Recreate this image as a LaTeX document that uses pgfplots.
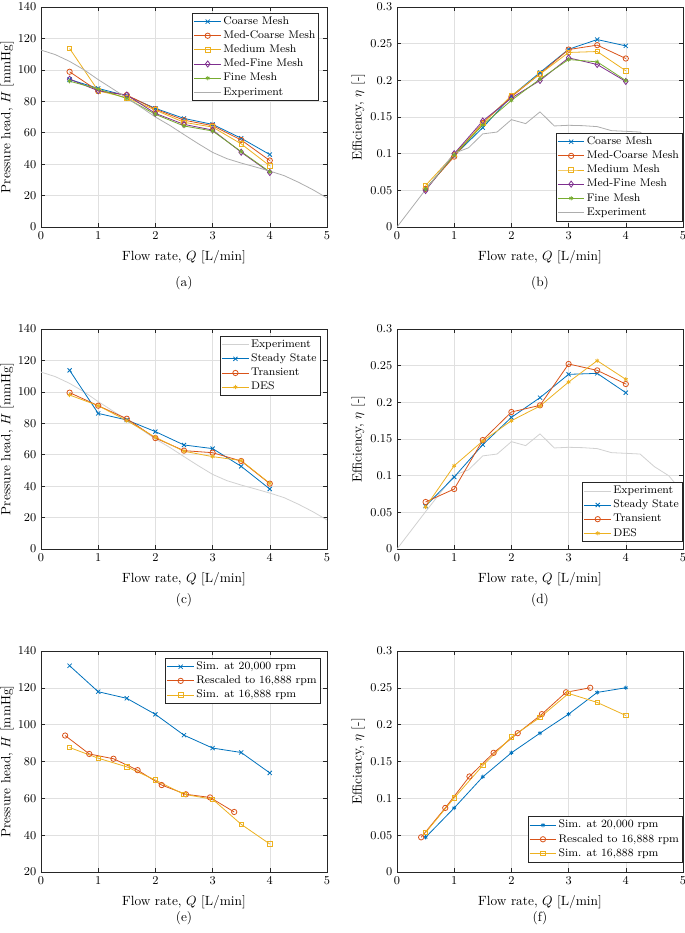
\documentclass[border=0pt]{standalone}
\usepackage{pgfplots}
\pgfplotsset{compat=1.18}
\definecolor{mblue}{rgb}{0,0.447,0.741}
\definecolor{morange}{rgb}{0.85,0.325,0.098}
\definecolor{myellow}{rgb}{0.929,0.694,0.125}
\definecolor{mpurple}{rgb}{0.494,0.184,0.556}
\definecolor{mgreen}{rgb}{0.466,0.674,0.188}
\definecolor{expA}{rgb}{0.68,0.68,0.68}
\definecolor{expC}{rgb}{0.82,0.82,0.82}
\definecolor{gridgray}{rgb}{0.88,0.88,0.88}
\definecolor{axgray}{rgb}{0.15,0.15,0.15}
\pgfplotsset{
 myax/.style={scale only axis, width=214.5pt, height=165pt, anchor=south west,
  xmin=0, xmax=5, xtick={0,1,2,3,4,5},
  grid=major, grid style={color=gridgray, line width=0.4pt},
  axis line style={color=axgray, line width=0.4pt},
  tick style={color=axgray, line width=0.4pt}, major tick length=3pt,
  tick label style={font=\fontsize{9.5}{11}\selectfont, color=black},
  label style={font=\fontsize{10}{12}\selectfont},
  xlabel={Flow rate, $Q$ [L/min]},
  xlabel style={at={(axis description cs:0.5,-0.136)}, anchor=center},
  legend cell align=left,
  legend style={font=\fontsize{8.3}{9}\selectfont, draw=axgray, line width=0.4pt, inner sep=1pt,
    nodes={inner sep=1.4pt, text height=6pt, text depth=1.8pt}},
  legend image code/.code={\draw[mark repeat=2,mark phase=2] plot coordinates {(0pt,0pt) (10pt,0pt) (20pt,0pt)};},
  every axis plot/.append style={line width=0.6pt},
 },
 hax/.style={myax, ymin=0, ymax=140, ytick={0,20,...,140}, ylabel={Pressure head, $H$ [mmHg]},
   ylabel style={at={(axis description cs:-0.119,0.5)}, anchor=center}},
 eax/.style={myax, ymin=0, ymax=0.3, ytick={0,0.05,0.1,0.15,0.2,0.25,0.3}, scaled y ticks=false,
   yticklabel style={/pgf/number format/fixed, /pgf/number format/precision=2},
   ylabel={Efficiency, $\eta$ [-]},
   ylabel style={at={(axis description cs:-0.135,0.5)}, anchor=center}},
 mx/.style={mark=x, mark size=2.2pt},
 mo/.style={mark=o, mark size=2pt},
 msq/.style={mark=square, mark size=1.7pt},
 mdi/.style={mark=diamond, mark size=2.3pt},
 mst/.style={mark=asterisk, mark size=1.6pt},
}
\begin{document}
\begin{tikzpicture}
\useasboundingbox (0,0) rectangle (513.75pt,-699.75pt);
% (a)
\begin{axis}[hax, at={(30.75pt,-170.25pt)}, legend style={at={(0.972,0.973)}, anchor=north east}]
\addplot[mblue, mx] coordinates {(0.5,93.9) (1,88.2) (1.5,83.5) (2,75.5) (2.5,69.1) (3,65.3) (3.5,56.5) (4,46.1)};
\addlegendentry{Coarse Mesh}
\addplot[morange, mo] coordinates {(0.5,98.8) (1,86.5) (1.5,84) (2,75) (2.5,68) (3,64.5) (3.5,55.4) (4,42.3)};
\addlegendentry{Med-Coarse Mesh}
\addplot[myellow, msq] coordinates {(0.5,113.6) (1,86.7) (1.5,82.3) (2,74.4) (2.5,66.6) (3,63.6) (3.5,52.9) (4,38.9)};
\addlegendentry{Medium Mesh}
\addplot[mpurple, mdi] coordinates {(0.5,94.1) (1,86.7) (1.5,84) (2,72.3) (2.5,65.3) (3,61.7) (3.5,47.6) (4,34.7)};
\addlegendentry{Med-Fine Mesh}
\addplot[mgreen, mst] coordinates {(0.5,92.8) (1,87.8) (1.5,81.8) (2,71.7) (2.5,64.3) (3,61.1) (3.5,48) (4,35.1)};
\addlegendentry{Fine Mesh}
\addplot[expA, no marks] coordinates {(0,112.6) (0.25,109.7) (0.5,105.4) (0.75,100.1) (1,93.8) (1.25,88) (1.5,82.1) (1.75,76.2) (2,70) (2.25,64.7) (2.5,58.8) (2.75,53) (3,47.5) (3.25,43.5) (3.5,40.7) (3.75,38.2) (4,35.6) (4.25,32.7) (4.5,28.5) (4.75,23.8) (5,18.5)};
\addlegendentry{Experiment}
\end{axis}
% (b)
\begin{axis}[eax, at={(297.75pt,-170.25pt)}, legend style={at={(0.998,0.027)}, anchor=south east}]
\addplot[mblue, mx] coordinates {(0.5,0.0517) (1,0.0974) (1.5,0.1355) (2,0.1786) (2.5,0.2107) (3,0.2424) (3.5,0.2556) (4,0.247)};
\addlegendentry{Coarse Mesh}
\addplot[morange, mo] coordinates {(0.5,0.052) (1,0.096) (1.5,0.142) (2,0.1776) (2.5,0.209) (3,0.242) (3.5,0.248) (4,0.2298)};
\addlegendentry{Med-Coarse Mesh}
\addplot[myellow, msq] coordinates {(0.5,0.0566) (1,0.099) (1.5,0.1414) (2,0.179) (2.5,0.2085) (3,0.238) (3.5,0.2393) (4,0.213)};
\addlegendentry{Medium Mesh}
\addplot[mpurple, mdi] coordinates {(0.5,0.0498) (1,0.1) (1.5,0.1446) (2,0.1758) (2.5,0.1998) (3,0.2307) (3.5,0.2216) (4,0.1985)};
\addlegendentry{Med-Fine Mesh}
\addplot[mgreen, mst] coordinates {(0.5,0.0517) (1,0.0983) (1.5,0.139) (2,0.1727) (2.5,0.2017) (3,0.2284) (3.5,0.2252) (4,0.1998)};
\addlegendentry{Fine Mesh}
\addplot[expA, no marks] coordinates {(0,0) (0.5,0.051) (1,0.1006) (1.25,0.108) (1.5,0.127) (1.75,0.1295) (2,0.1464) (2.25,0.141) (2.5,0.157) (2.75,0.1378) (3,0.1387) (3.25,0.1382) (3.5,0.1369) (3.75,0.1314) (4,0.1305) (4.25,0.1295) (4.5,0.1123) (4.75,0.1) (5,0.0768)};
\addlegendentry{Experiment}
\end{axis}
% (c)
\begin{axis}[hax, at={(30.75pt,-411.75pt)}, legend style={at={(0.976,0.968)}, anchor=north east}]
\addplot[expC, no marks] coordinates {(0,112.6) (0.25,109.7) (0.5,105.4) (0.75,100.1) (1,93.8) (1.25,88) (1.5,82.1) (1.75,76.2) (2,70) (2.25,64.7) (2.5,58.8) (2.75,53) (3,47.5) (3.25,43.5) (3.5,40.7) (3.75,38.2) (4,35.6) (4.25,32.7) (4.5,28.5) (4.75,23.8) (5,18.5)};
\addlegendentry{Experiment}
\addplot[mblue, mx] coordinates {(0.5,113.7) (1,86.3) (1.5,82.1) (2,74.7) (2.5,66.2) (3,63.9) (3.5,52.6) (4,38.2)};
\addlegendentry{Steady State}
\addplot[morange, mo] coordinates {(0.5,99.5) (1,91.2) (1.5,82.9) (2,70.6) (2.5,62.6) (3,61.3) (3.5,56) (4,41.6)};
\addlegendentry{Transient}
\addplot[myellow, mst] coordinates {(0.5,98) (1,91.2) (1.5,81.7) (2,71.1) (2.5,62.2) (3,58.8) (3.5,56.3) (4,41.8)};
\addlegendentry{DES}
\end{axis}
% (d)
\begin{axis}[eax, at={(297.75pt,-411.75pt)}, legend style={at={(0.998,0.032)}, anchor=south east}]
\addplot[expC, no marks] coordinates {(0,0) (0.5,0.051) (1,0.1006) (1.25,0.108) (1.5,0.127) (1.75,0.1295) (2,0.1464) (2.25,0.141) (2.5,0.157) (2.75,0.1378) (3,0.1387) (3.25,0.1382) (3.5,0.1369) (3.75,0.1314) (4,0.1305) (4.25,0.1295) (4.5,0.1123) (4.75,0.1) (5,0.0768)};
\addlegendentry{Experiment}
\addplot[mblue, mx] coordinates {(0.5,0.0586) (1,0.0982) (1.5,0.1423) (2,0.1795) (2.5,0.2064) (3,0.2382) (3.5,0.2395) (4,0.2132)};
\addlegendentry{Steady State}
\addplot[morange, mo] coordinates {(0.5,0.0641) (1,0.0818) (1.5,0.1486) (2,0.1868) (2.5,0.1959) (3,0.2523) (3.5,0.2436) (4,0.225)};
\addlegendentry{Transient}
\addplot[myellow, mst] coordinates {(0.5,0.0573) (1,0.1136) (1.5,0.1473) (2,0.175) (2.5,0.195) (3,0.2277) (3.5,0.2568) (4,0.2314)};
\addlegendentry{DES}
\end{axis}
% (e)
\begin{axis}[myax, height=165.75pt, ymin=20, ymax=140, ytick={20,40,...,140}, ylabel={Pressure head, $H$ [mmHg]},
  ylabel style={at={(axis description cs:-0.119,0.5)}, anchor=center},
  at={(30.75pt,-654pt)}, legend style={at={(0.976,0.968)}, anchor=north east}]
\addplot[mblue, mx] coordinates {(0.5,132) (1,117.9) (1.5,114.3) (2,105.6) (2.5,94.3) (3,87.3) (3.5,84.9) (4,73.8)};
\addlegendentry{Sim. at 20,000 rpm}
\addplot[morange, mo] coordinates {(0.422,94.1) (0.844,84.1) (1.267,81.5) (1.689,75.3) (2.111,67.2) (2.533,62.2) (2.955,60.5) (3.378,52.6)};
\addlegendentry{Rescaled to 16,888 rpm}
\addplot[myellow, msq] coordinates {(0.5,87.6) (1,81.8) (1.5,77.1) (2,69.9) (2.5,62.2) (3,59.5) (3.5,45.9) (4,35.2)};
\addlegendentry{Sim. at 16,888 rpm}
\end{axis}
% (f)
\begin{axis}[eax, height=165.75pt, at={(297.75pt,-654pt)}, legend style={at={(0.998,0.045)}, anchor=south east}]
\addplot[mblue, mst] coordinates {(0.5,0.0471) (1,0.087) (1.5,0.1292) (2,0.1618) (2.5,0.1885) (3,0.2143) (3.5,0.2438) (4,0.2501)};
\addlegendentry{Sim. at 20,000 rpm}
\addplot[morange, mo] coordinates {(0.422,0.0471) (0.844,0.087) (1.267,0.1297) (1.689,0.1618) (2.111,0.1885) (2.533,0.2143) (2.955,0.244) (3.378,0.2501)};
\addlegendentry{Rescaled to 16,888 rpm}
\addplot[myellow, msq] coordinates {(0.5,0.0535) (1,0.1006) (1.5,0.1446) (2,0.1831) (2.5,0.2098) (3,0.2424) (3.5,0.2302) (4,0.2125)};
\addlegendentry{Sim. at 16,888 rpm}
\end{axis}
\node[font=\fontsize{10}{12}\selectfont] at (138pt,-212.25pt) {(a)};
\node[font=\fontsize{10}{12}\selectfont] at (405pt,-212.25pt) {(b)};
\node[font=\fontsize{10}{12}\selectfont] at (138pt,-450pt) {(c)};
\node[font=\fontsize{10}{12}\selectfont] at (405pt,-450pt) {(d)};
\node[font=\fontsize{10}{12}\selectfont] at (138pt,-688.5pt) {(e)};
\node[font=\fontsize{10}{12}\selectfont] at (405pt,-688.5pt) {(f)};
\end{tikzpicture}
\end{document}
